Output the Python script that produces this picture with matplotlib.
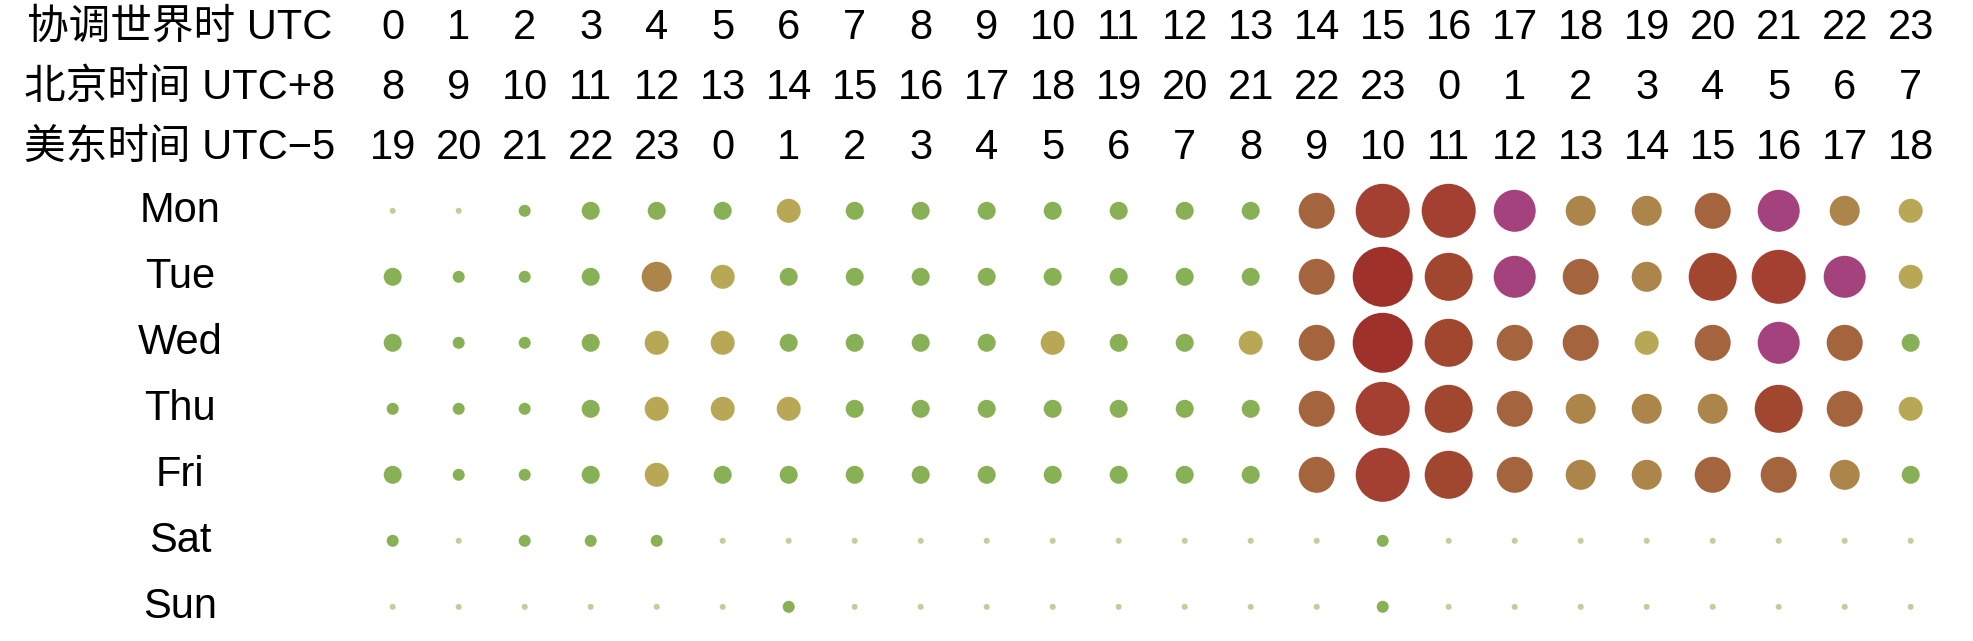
import matplotlib
matplotlib.use('Agg')
import matplotlib.pyplot as plt
import numpy as np

plt.rcParams['font.family'] = ['Liberation Sans', 'Noto Sans CJK SC']

days = ['Mon', 'Tue', 'Wed', 'Thu', 'Fri', 'Sat', 'Sun']
header_labels = ['协调世界时 UTC', '北京时间 UTC+8', '美东时间 UTC−5']
utc_hours = [0, 1, 2, 3, 4, 5, 6, 7, 8, 9, 10, 11, 12, 13, 14, 15, 16, 17, 18, 19, 20, 21, 22, 23]
beijing_hours = [8, 9, 10, 11, 12, 13, 14, 15, 16, 17, 18, 19, 20, 21, 22, 23, 0, 1, 2, 3, 4, 5, 6, 7]
eastern_hours = [19, 20, 21, 22, 23, 0, 1, 2, 3, 4, 5, 6, 7, 8, 9, 10, 11, 12, 13, 14, 15, 16, 17, 18]

# activity level per hour (UTC), 1..10
mon = [1, 1, 2, 3, 3, 3, 4, 3, 3, 3, 3, 3, 3, 3, 6, 9, 9, 7, 5, 5, 6, 7, 5, 4]
tue = [3, 2, 2, 3, 5, 4, 3, 3, 3, 3, 3, 3, 3, 3, 6, 10, 8, 7, 6, 5, 8, 9, 7, 4]
wed = [3, 2, 2, 3, 4, 4, 3, 3, 3, 3, 4, 3, 3, 4, 6, 10, 8, 6, 6, 4, 6, 7, 6, 3]
thu = [2, 2, 2, 3, 4, 4, 4, 3, 3, 3, 3, 3, 3, 3, 6, 9, 8, 6, 5, 5, 5, 8, 6, 4]
fri = [3, 2, 2, 3, 4, 3, 3, 3, 3, 3, 3, 3, 3, 3, 6, 9, 8, 6, 5, 5, 6, 6, 5, 3]
sat = [2, 1, 2, 2, 2, 1, 1, 1, 1, 1, 1, 1, 1, 1, 1, 2, 1, 1, 1, 1, 1, 1, 1, 1]
sun = [1, 1, 1, 1, 1, 1, 2, 1, 1, 1, 1, 1, 1, 1, 1, 2, 1, 1, 1, 1, 1, 1, 1, 1]

week = [mon, tue, wed, thu, fri, sat, sun]

palette = {1: '#bdd09a', 2: '#88b055', 3: '#88b055', 4: '#b8a856', 5: '#ab8549',
           6: '#a4643d', 7: '#a4427e', 8: '#a1462f', 9: '#a44031', 10: '#9e322b'}

fig = plt.figure(figsize=(19.73, 6.41), dpi=100)
ax = fig.add_axes([0, 0, 1, 1])
ax.set_xlim(-5.95, 23.944)
ax.set_ylim(6.518, -3.194)
ax.axis('off')

fs = 30
label_x = -3.223

# header rows
header_rows = [utc_hours, beijing_hours, eastern_hours]
header_y = [-2.61, -1.70, -0.79]
for label, hours, y in zip(header_labels, header_rows, header_y):
    ax.text(label_x, y, label, ha='center', va='baseline', fontsize=fs)
    for i, h in enumerate(hours):
        ax.text(i, y, str(h), ha='center', va='baseline', fontsize=fs)

# bubbles
for r, (day, vals) in enumerate(zip(days, week)):
    ax.text(label_x, r + 0.17, day, ha='center', va='baseline', fontsize=fs)
    vals = np.array(vals)
    d_pt = 6 * vals * 0.72
    ax.scatter(np.arange(len(vals)), np.full(len(vals), r), s=d_pt ** 2,
               c=[palette[v] for v in vals], linewidths=0)

fig.savefig('out.png', dpi=100)
